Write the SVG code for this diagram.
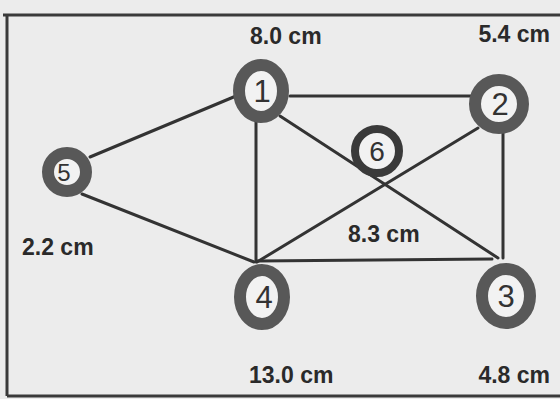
<svg xmlns="http://www.w3.org/2000/svg" width="560" height="399" viewBox="0 0 560 399">
<style>
.ring{fill:#f2f2f2;stroke:#585858;stroke-width:12}
.edge{stroke:#333;stroke-width:3;fill:none;stroke-linecap:round}
.frame{stroke:#3a3a3a;stroke-width:3;fill:none}
.num{font-family:"Liberation Sans",Arial,sans-serif;font-size:31px;fill:#333;text-anchor:middle}
.lbl{font-family:"Liberation Sans",Arial,sans-serif;font-size:23px;font-weight:bold;fill:#2a2a2a}
</style>
<rect width="560" height="399" fill="#ececec"/>
<g id="frame">
<path class="frame" d="M3,15 H560 M7,15 V396 M7,396 H560"/>
</g>
<g id="connectors">
<line class="edge" x1="290" y1="96" x2="472" y2="96"/>
<line class="edge" x1="236" y1="96" x2="90" y2="157"/>
<line class="edge" x1="82" y1="194" x2="254" y2="262"/>
<line class="edge" x1="256" y1="118" x2="256" y2="262"/>
<line class="edge" x1="280" y1="116" x2="498" y2="258"/>
<line class="edge" x1="257" y1="262" x2="478" y2="128"/>
<line class="edge" x1="503" y1="128" x2="503" y2="258"/>
<line class="edge" x1="257" y1="261" x2="492" y2="259"/>
</g>
<g id="node1"><ellipse class="ring" cx="261" cy="91" rx="22" ry="26"/><text class="num" x="262" y="102">1</text></g>
<g id="node2"><circle class="ring" cx="499" cy="104" r="24"/><text class="num" x="500" y="115">2</text></g>
<g id="node3"><ellipse class="ring" cx="506" cy="296" rx="24" ry="27"/><text class="num" x="506" y="307">3</text></g>
<g id="node4"><ellipse class="ring" cx="262" cy="297" rx="22" ry="27"/><text class="num" x="264" y="308">4</text></g>
<g id="node5"><circle class="ring" cx="67" cy="172" r="19"/><text class="num" x="64" y="181" style="font-size:24px">5</text></g>
<g id="node6"><circle class="ring" cx="377" cy="151" r="22" style="stroke:#3a3a3a;stroke-width:8"/><text class="num" x="377" y="161" style="font-size:28px">6</text></g>
<g id="labels">
<text class="lbl" x="250" y="44">8.0 cm</text>
<text class="lbl" x="550" y="42" text-anchor="end">5.4 cm</text>
<text class="lbl" x="22" y="255">2.2 cm</text>
<text class="lbl" x="348" y="242">8.3 cm</text>
<text class="lbl" x="249" y="383">13.0 cm</text>
<text class="lbl" x="550" y="383" text-anchor="end">4.8 cm</text>
</g>
</svg>
